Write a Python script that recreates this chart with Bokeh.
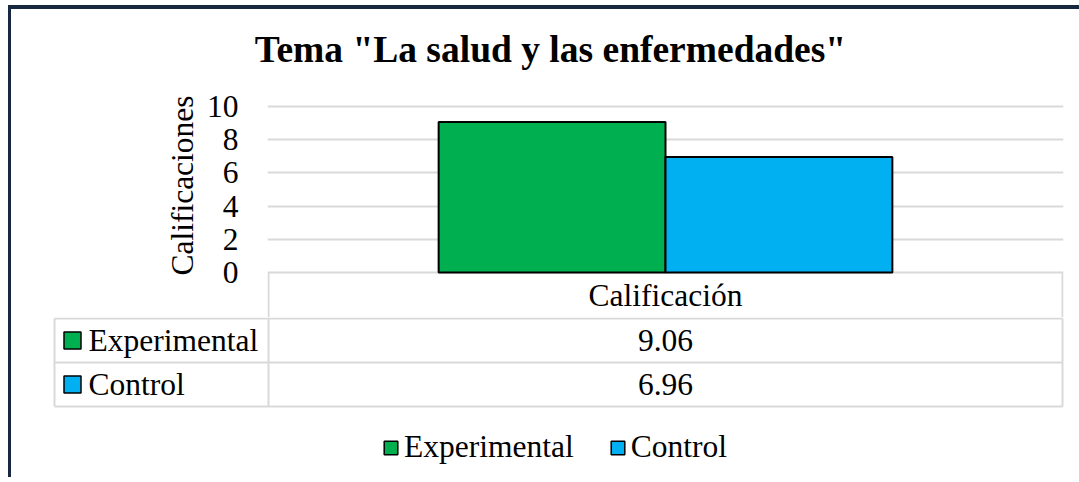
import math
from bokeh.plotting import figure
from bokeh.layouts import column, row
from bokeh.models import (Range1d, FixedTicker, Legend, LegendItem,
                          ColumnDataSource)
from bokeh.core.properties import value
from bokeh.embed import file_html
from bokeh.resources import INLINE

# ---------------- data ----------------
title_text = 'Tema "La salud y las enfermedades"'
category = "Calificación"
series = ["Experimental", "Control"]
values = [9.06, 6.96]
colors = ["#00B050", "#00B0F0"]
y_ticks = [0, 2, 4, 6, 8, 10]
y_label = "Calificaciones"

# ---------------- styles / layout (pixels) ----------------
FONT = "Liberation Serif"
GRID = "#d9d9d9"
NAVY = "#172840"
ML, MT, BL, BT = 8, 5, 3, 4              # margins and navy border
OX, OY = ML + BL, MT + BT                # page position of figure content
W = 1068
LW = 189                                 # width of the axis-title strip
T_H = 76                                 # height of the title strip
PLOT_L, PLOT_R = 268, 1062               # page x of category area
PLOT_T, ZERO_Y = 106, 272                # page y of value 10 and value 0
HDR_B = 318                              # bottom of table header row
ROW_H = 44
LABEL_COL_L = 54
TXT = "31.5px"
GAP = 0.75                               # half of Excel 150% gap width, in bar units
YLAB_X, YLAB_Y = 182, 185                # page centre of the value-axis title
TITLE_X, TITLE_MID = 550, 49             # page centre of the title

ppv = (ZERO_Y - PLOT_T) / 10.0           # px per value unit
ncat = len(series)
ppb = (PLOT_R - PLOT_L) / (ncat + 2 * GAP)  # px per bar width


def bare(p):
    p.outline_line_color = None
    p.xgrid.grid_line_color = None
    p.ygrid.grid_line_color = None
    if "frame_align" in p.properties():
        p.frame_align = False
    return p


# ---------------- title strip ----------------
pT = bare(figure(width=W, height=T_H, x_range=Range1d(OX, OX + W),
                 y_range=Range1d(0, T_H), output_backend="svg",
                 toolbar_location=None, x_axis_location=None,
                 y_axis_location=None, min_border_left=0, min_border_right=0,
                 min_border_top=0, min_border_bottom=0))
pT.text(x=[TITLE_X], y=[OY + T_H - TITLE_MID], text=[title_text],
        text_font=value(FONT), text_font_size=value("37.5px"),
        text_font_style="bold", text_color="black",
        text_align="center", text_baseline="middle")

# ---------------- chart figure (bars + header row) ----------------
A_T = OY + T_H
A_L = OX + LW
A_FL, A_FR = PLOT_L - 1, PLOT_R + 1
A_BOT = HDR_B - 1
hA = A_BOT - A_T
xa0 = -GAP - (PLOT_L - A_FL) / ppb
xa1 = ncat + GAP + (A_FR - PLOT_R) / ppb
ya0 = -(A_BOT - ZERO_Y) / ppv
ya1 = 10 + (PLOT_T - A_T) / ppv
pA = figure(width=W - LW, height=hA,
            x_range=Range1d(xa0, xa1), y_range=Range1d(ya0, ya1),
            output_backend="svg", toolbar_location=None,
            x_axis_location=None,
            min_border_left=A_FL - A_L, min_border_right=OX + W - A_FR,
            min_border_top=0, min_border_bottom=0)
pA.outline_line_color = None
if "frame_align" in pA.properties():
    pA.frame_align = False

xpos = [i + 0.5 for i in range(ncat)]
src = ColumnDataSource(dict(x=xpos, top=values, color=colors))
pA.vbar(x="x", top="top", width=1.0, source=src, fill_color="color",
        line_color="black", line_width=2)

ax = pA.yaxis[0]
ax.ticker = FixedTicker(ticks=y_ticks)
ax.axis_line_color = None
ax.major_tick_line_color = None
ax.minor_tick_line_color = None
ax.major_label_text_font = FONT
ax.major_label_text_font_size = TXT
ax.major_label_text_color = "black"
ax.major_label_standoff = 23

pA.xgrid.grid_line_color = None
pA.ygrid.grid_line_color = GRID
pA.ygrid.grid_line_width = 2

# header cell of the data table
pA.segment(x0=[-GAP, ncat + GAP], x1=[-GAP, ncat + GAP], y0=[0, 0],
           y1=[ya0, ya0], line_color=GRID, line_width=2)
pA.text(x=[ncat / 2], y=[-(HDR_B - ZERO_Y) / ppv / 2], text=[category],
        text_font=value(FONT), text_font_size=value(TXT),
        text_align="center", text_baseline="middle", text_color="black")

# ---------------- value-axis title strip ----------------
pL = bare(figure(width=LW, height=hA, x_range=Range1d(OX, OX + LW),
                 y_range=Range1d(0, hA),
                 output_backend="svg", toolbar_location=None,
                 x_axis_location=None, y_axis_location=None,
                 min_border_left=0, min_border_right=0, min_border_top=0,
                 min_border_bottom=0))
pL.text(x=[YLAB_X], y=[A_T + hA - YLAB_Y], text=[y_label], angle=math.pi / 2,
        text_font=value(FONT), text_font_size=value(TXT), text_color="black",
        text_align="center", text_baseline="middle")

# ---------------- data rows + legend figure ----------------
hB = 160
B_TOP = A_BOT
xb0 = -GAP - (PLOT_L - OX) / ppb
xb1 = ncat + GAP + (OX + W - PLOT_R) / ppb
yb_top = -(HDR_B - B_TOP) / ROW_H
yb_bot = (B_TOP + hB - HDR_B) / ROW_H
pB = bare(figure(width=W, height=hB, x_range=Range1d(xb0, xb1),
                 y_range=Range1d(yb_bot, yb_top),
                 output_backend="svg", toolbar_location=None,
                 x_axis_location=None, y_axis_location=None,
                 min_border_left=0, min_border_right=0, min_border_top=0,
                 min_border_bottom=0))

lab_l = -GAP - (PLOT_L - LABEL_COL_L) / ppb
right = ncat + GAP
rows = list(range(ncat + 1))
pB.segment(x0=[lab_l] * len(rows), x1=[right] * len(rows), y0=rows, y1=rows,
           line_color=GRID, line_width=2)
pB.segment(x0=[lab_l, -GAP, right], x1=[lab_l, -GAP, right],
           y0=[0, 0, 0], y1=[ncat] * 3, line_color=GRID, line_width=2)

row_y = [i + 0.5 for i in range(ncat)]
pB.text(x=[ncat / 2] * ncat, y=row_y, text=[f"{v:.2f}" for v in values],
        text_font=value(FONT), text_font_size=value(TXT),
        text_align="center", text_baseline="middle", text_color="black")
sq_x = -GAP - (PLOT_L - 72) / ppb
txt_x = -GAP - (PLOT_L - 88) / ppb
pB.text(x=[txt_x] * ncat, y=row_y, text=series, text_font=value(FONT),
        text_font_size=value(TXT), text_align="left",
        text_baseline="middle", text_color="black")
items = []
for i, s in enumerate(series):
    r = pB.rect(x=[sq_x], y=[row_y[i]], width=17, height=17,
                width_units="screen", height_units="screen",
                fill_color=colors[i], line_color="black", line_width=1.5)
    items.append(LegendItem(label=s, renderers=[r]))

legend = Legend(items=items, orientation="horizontal",
                location=(382 - OX, 12),
                glyph_width=17, glyph_height=17, label_standoff=5, spacing=35,
                padding=0, margin=0, border_line_color=None,
                background_fill_alpha=0, label_text_font=FONT,
                label_text_font_size=TXT, label_text_color="black")
pB.add_layout(legend)

layout = column(pT, row(pL, pA, spacing=0), pB, spacing=0,
                styles={"margin-left": f"{ML}px", "margin-top": f"{MT}px",
                        "border-left": f"{BL}px solid {NAVY}",
                        "border-top": f"{BT}px solid {NAVY}"})

open("out.html", "w").write(file_html(layout, INLINE))
